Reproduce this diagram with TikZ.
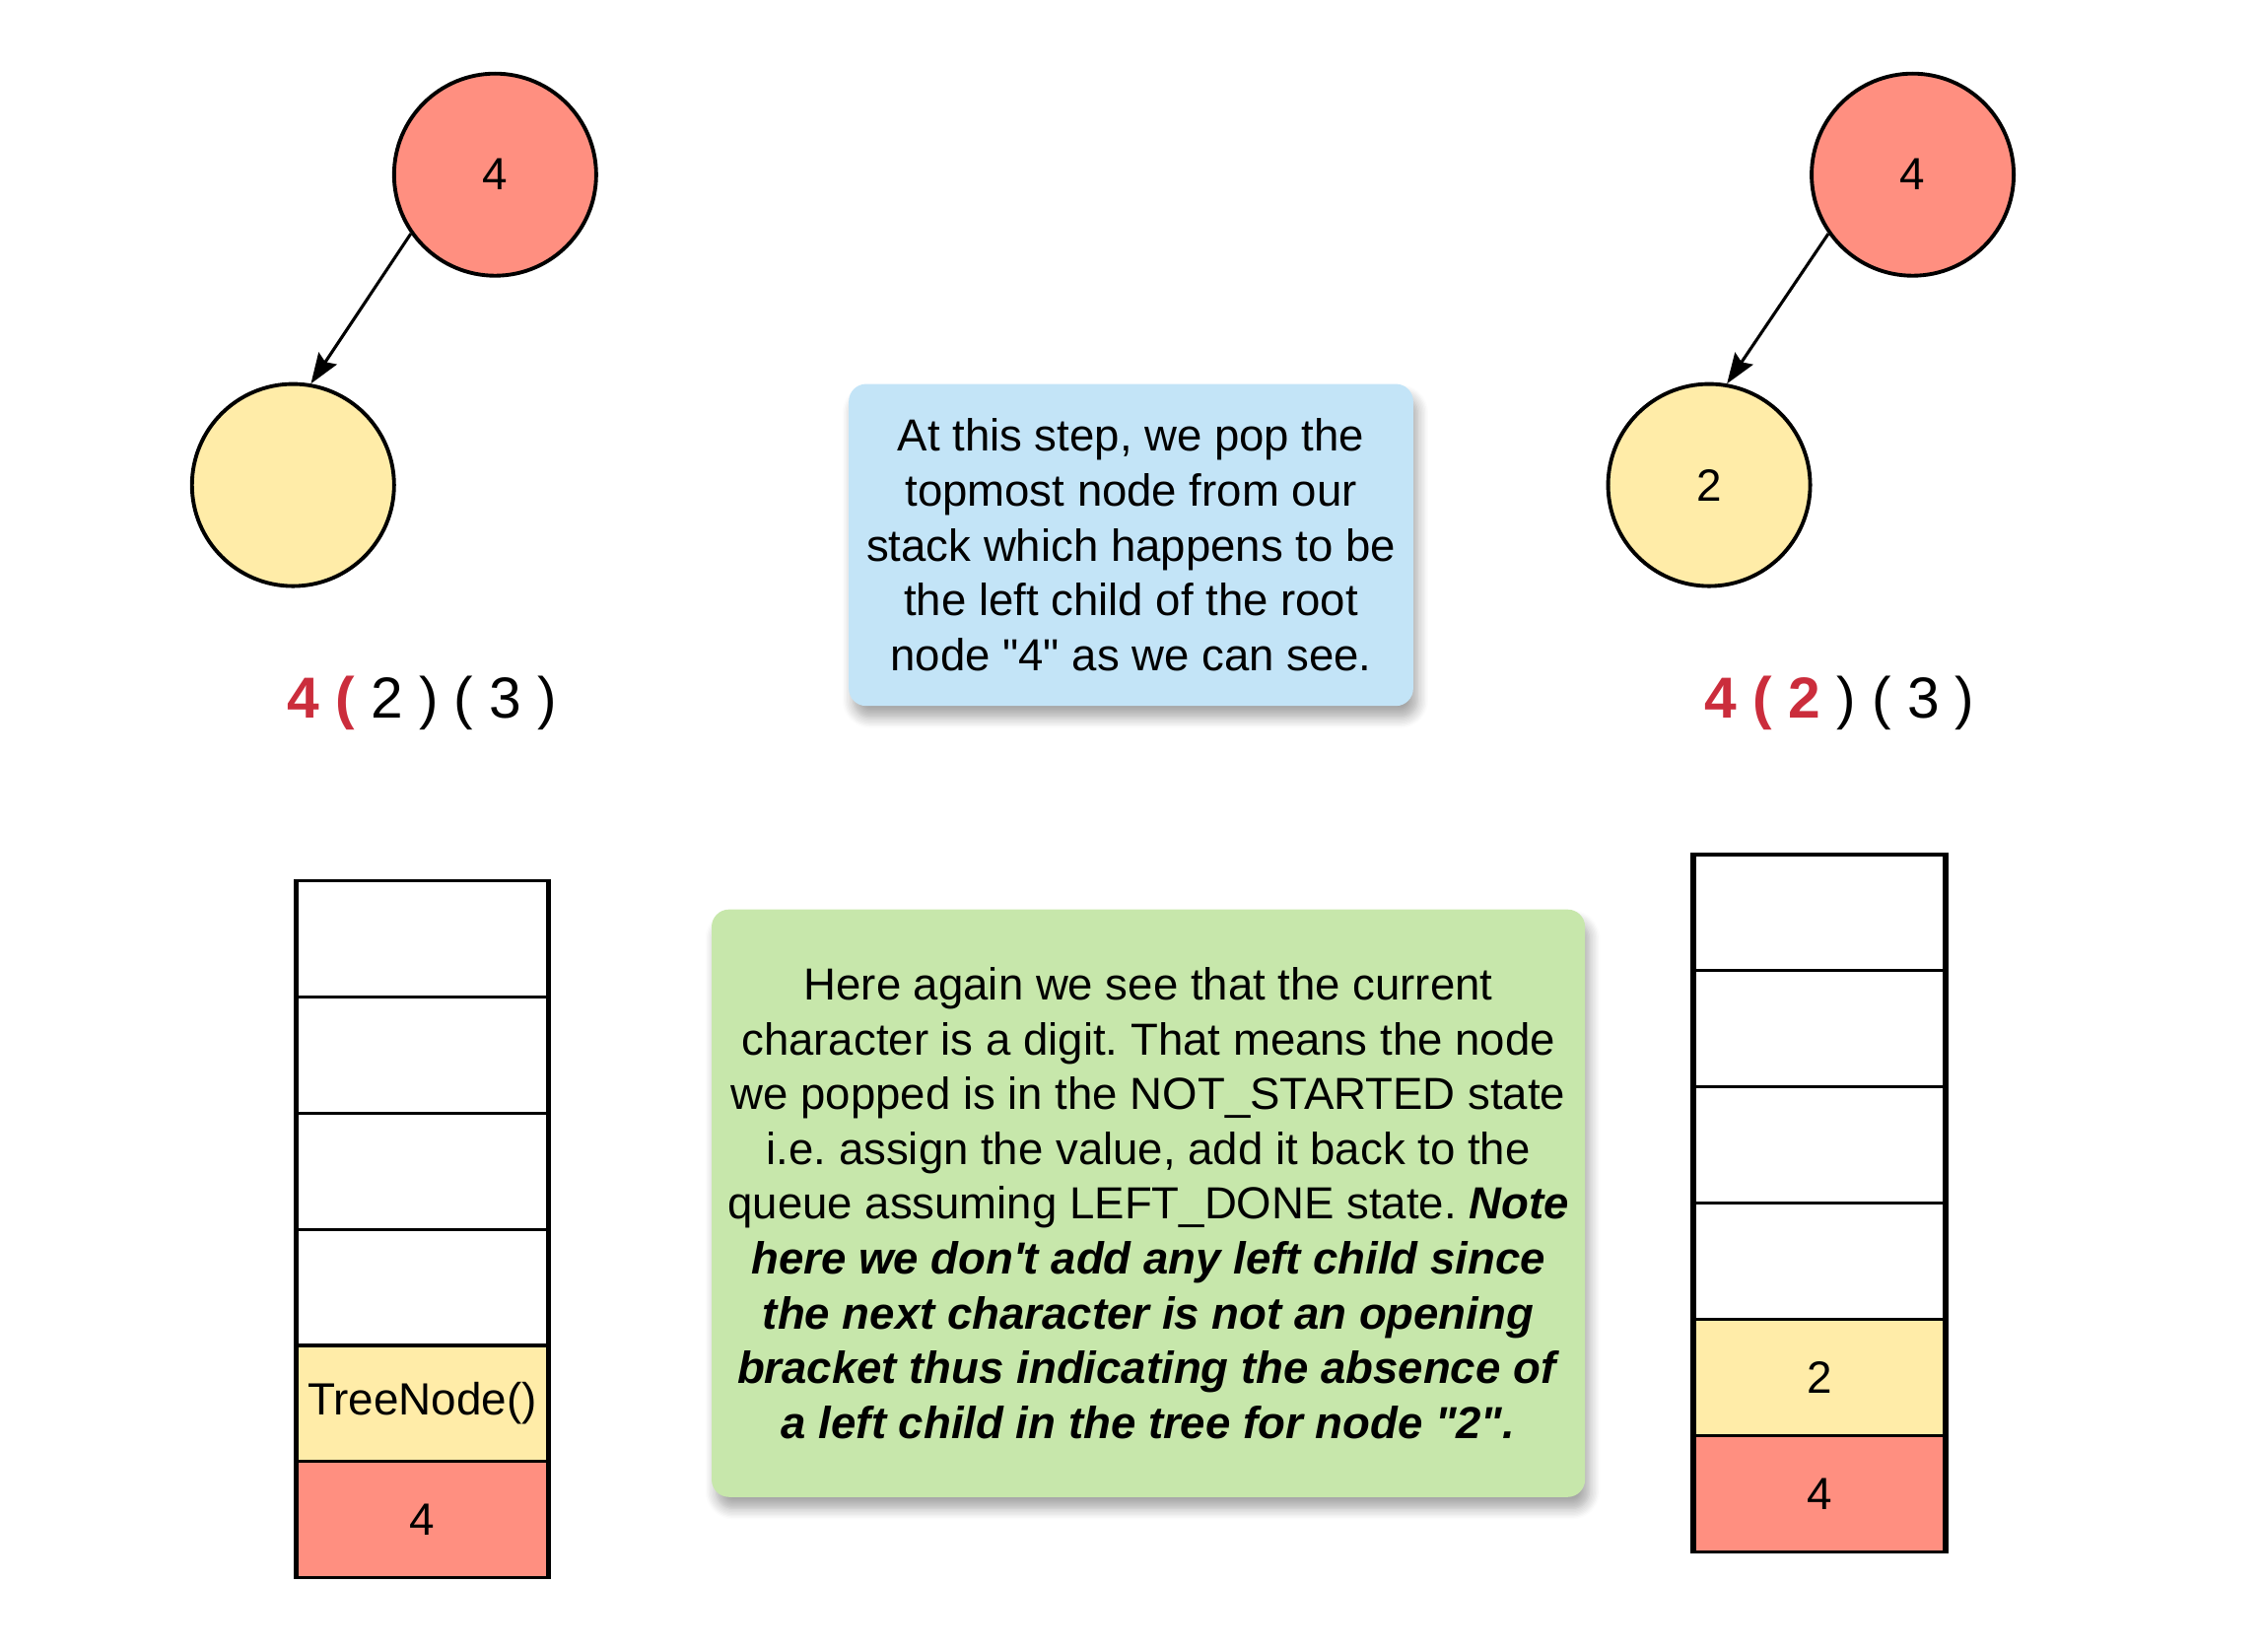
\documentclass[tikz,border=0pt]{standalone}
\usepackage{fontspec}
\setmainfont{Liberation Sans}
\usepackage{tikz}
\usetikzlibrary{arrows.meta,shadows.blur}
\frenchspacing

\definecolor{rootred}{RGB}{255,143,128}
\definecolor{childyellow}{RGB}{255,236,168}
\definecolor{noteblue}{RGB}{195,228,247}
\definecolor{notegreen}{RGB}{199,231,171}
\definecolor{seqred}{RGB}{203,45,60}

\tikzset{
  treenode/.style={circle, draw, line width=0.75pt, minimum size=1.4cm, inner sep=0pt,
    font=\fontsize{8.9}{10.8}\selectfont},
  cell/.style={draw, line width=0.6pt, minimum width=1.73cm, minimum height=0.805cm,
    inner sep=0pt, font=\fontsize{8.9}{10.8}\selectfont},
  border/.style={line width=1pt},
  edge/.style={-{Stealth[length=0.21cm, width=0.15cm, inset=0.03cm]}, line width=0.6pt},
  seq/.style={font=\fontsize{11.4}{13}\selectfont},
  note/.style={rounded corners=0.12cm, align=center, inner sep=0pt,
    font=\fontsize{8.85}{10.8}\selectfont,
    blur shadow={shadow xshift=0.03cm, shadow yshift=-0.08cm, shadow blur steps=8, shadow opacity=35}}
}

\begin{document}
\begin{tikzpicture}
    \useasboundingbox (0,0) rectangle (15.67,-11.44);

    % left tree
    \node[treenode, fill=rootred] (lroot) at (3.43,-1.21) {4};
    \node[treenode, fill=childyellow] (lchild) at (2.03,-3.36) {};
    \draw[edge] (lroot.215) -- (lchild.80);
    \node[seq] (lseq) at (2.925,-4.87) {\textcolor{seqred}{\bfseries 4 (} 2 ) ( 3 )};

    % right tree
    \node[treenode, fill=rootred] (rroot) at (13.25,-1.21) {4};
    \node[treenode, fill=childyellow] (rchild) at (11.84,-3.36) {2};
    \draw[edge] (rroot.215) -- (rchild.80);
    \node[seq] (rseq) at (12.745,-4.87) {\textcolor{seqred}{\bfseries 4 ( 2} ) ( 3 )};

    % left stack
    \node[cell] (ls1) at (2.925,-6.5025) {};
    \node[cell] (ls2) at (2.925,-7.3075) {};
    \node[cell] (ls3) at (2.925,-8.1125) {};
    \node[cell] (ls4) at (2.925,-8.9175) {};
    \node[cell, fill=childyellow] (ls5) at (2.925,-9.7225) {TreeNode()};
    \node[cell, fill=rootred] (ls6) at (2.925,-10.5275) {4};
    \draw[border] (ls1.north west) -- (ls6.south west);
    \draw[border] (ls1.north east) -- (ls6.south east);

    % right stack
    \node[cell] (rs1) at (12.605,-6.3225) {};
    \node[cell] (rs2) at (12.605,-7.1275) {};
    \node[cell] (rs3) at (12.605,-7.9325) {};
    \node[cell] (rs4) at (12.605,-8.7375) {};
    \node[cell, fill=childyellow] (rs5) at (12.605,-9.5425) {2};
    \node[cell, fill=rootred] (rs6) at (12.605,-10.3475) {4};
    \draw[border] (rs1.north west) -- (rs6.south west);
    \draw[border] (rs1.north east) -- (rs6.south east);

    % notes
    \node[note, fill=noteblue, minimum width=3.91cm, minimum height=2.23cm] (popnote) at (7.835,-3.775)
      {At this step, we pop the\\ topmost node from our\\ stack which happens to be\\ the left child of the root\\ node \textquotedbl 4\textquotedbl{} as we can see.};
    \node[note, fill=notegreen, minimum width=6.05cm, minimum height=4.07cm] (digitnote) at (7.955,-8.335)
      {Here again we see that the current\\ character is a digit. That means the node\\ we popped is in the NOT\_STARTED state\\ i.e. assign the value, add it back to the\\ queue assuming LEFT\_DONE state. \textbf{\textit{Note}}\\ \textbf{\textit{here we don\textquotesingle t add any left child since}}\\ \textbf{\textit{the next character is not an opening}}\\ \textbf{\textit{bracket thus indicating the absence of}}\\ \textbf{\textit{a left child in the tree for node \textquotedbl 2\textquotedbl .}}};
  \end{tikzpicture}
\end{document}
